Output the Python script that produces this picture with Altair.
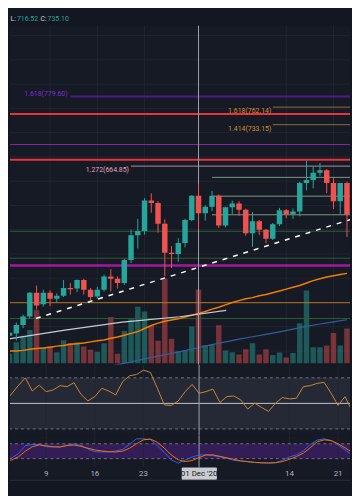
import altair as alt
import pandas as pd

# ---------------- data ----------------
dates = pd.date_range("2020-11-03", "2020-12-23", freq="D")
opens = [385, 389, 403, 417, 456, 437, 456, 446, 451, 464, 463, 477, 461, 450, 461, 483, 479,
         472, 510, 551, 558, 608, 604, 570, 522, 520, 538, 576, 616, 587, 598, 616, 567, 597,
         603, 593, 554, 574, 560, 545, 569, 592, 586, 590, 637, 642, 654, 658, 637, 607, 637]
highs = [393, 407, 420, 457, 468, 461, 460, 455, 477, 472, 478, 479, 464, 466, 486, 495, 483,
         512, 560, 578, 612, 620, 607, 577, 533, 546, 578, 617, 636, 600, 624, 618, 598, 608,
         607, 595, 589, 576, 561, 571, 596, 594, 595, 639, 674, 665, 670, 660, 645, 637, 639]
lows = [372, 377, 398, 413, 428, 433, 434, 440, 449, 453, 457, 453, 444, 446, 458, 458, 463,
        469, 505, 529, 552, 588, 555, 483, 497, 507, 531, 574, 560, 575, 591, 563, 564, 586,
        583, 550, 532, 551, 538, 543, 566, 579, 578, 582, 625, 628, 649, 620, 594, 586, 548]
closes = [390, 403, 417, 456, 435, 456, 446, 451, 464, 462, 477, 461, 449, 461, 483, 479, 472,
          510, 551, 558, 608, 604, 570, 522, 520, 538, 576, 616, 587, 598, 616, 567, 597, 603,
          593, 554, 574, 560, 545, 569, 592, 586, 590, 637, 642, 654, 658, 637, 607, 637, 585]
volumes = [9.5, 21.2, 27.8, 33.5, 53.5, 15.5, 17.2, 11.2, 23.2, 20.5, 21.2, 16.8, 13.5, 11.5,
           20.2, 46.8, 9.5, 32.5, 44.5, 57.2, 52.2, 37.8, 22.8, 85.5, 24.8, 12.2, 12.8, 37.2,
           74.5, 18.5, 18.8, 38.5, 12.8, 11.2, 8.8, 14.2, 20.2, 8.8, 14.2, 8.2, 10.8, 5.8, 10.2,
           40.5, 73.5, 16.2, 16.2, 17.8, 30.5, 17.8, 35.2]
rsi = [50.5, 57.3, 64, 70, 59.7, 64.3, 59.2, 60.5, 63.9, 63.1, 66.2, 57.1, 51.9, 55.3, 61.8,
       59.7, 56.6, 67, 71.6, 72.6, 76, 74.2, 61.8, 48.8, 48.4, 51.9, 59.2, 64.9, 57.9, 59.2,
       61.2, 50.7, 55.3, 55.8, 52.7, 45.5, 50.2, 46.8, 43.7, 50.2, 54.6, 53.5, 54, 63.1, 63.9,
       65.7, 66.4, 57.9, 48.4, 55.3, 44.2]
stoch_k = [18, 22, 40, 72, 77, 77, 68, 67, 67, 74, 80, 73, 59, 48, 47, 47, 51, 57, 78, 100,
           100, 97, 72, 45, 15, 2, 14, 26, 35, 35, 32, 27, 21, 13, 10, 7, 4, 3, 3, 4, 13, 27,
           35, 51, 77, 95, 100, 93, 75, 55, 35]
stoch_d = [12, 14, 27, 50, 68, 75, 72, 68, 67, 73, 75, 70, 62, 55, 51, 48, 47, 50, 62, 80,
           96, 99, 86, 62, 35, 15, 8, 12, 24, 35, 35, 29, 23, 17, 11, 8, 5, 3, 2, 3, 8, 17, 28,
           42, 64, 88, 96, 93, 80, 64, 46]
ma_orange = [360, 360, 361, 363, 364, 365, 366, 368, 369, 371, 372, 373, 375, 377, 378, 381,
             383, 386, 389, 392, 397, 402, 406, 409, 411, 413, 416, 419, 422, 425, 429, 432,
             436, 440, 443, 446, 448, 451, 453, 456, 459, 462, 465, 468, 472, 476, 479, 482,
             484, 486, 488]
ma_blue_days = [-16, -14, -12, -10, -8, -6, -4, -2, 0, 2, 4, 6, 8, 10, 12, 14, 16, 18, 20, 22]
ma_blue = [329, 333, 337.5, 342, 347, 351.5, 356, 360.5, 365.5, 370.5, 375, 379.5, 383.5,
           387.5, 391.5, 396, 400.5, 404.5, 408, 411.5]
white_line_days = [-28.4, -19.8, -11.3, -2.8, 4.1]
white_line = [379.5, 394.5, 407.5, 416.5, 427]
trend_days = [-24.1, 22.9]
trend_prices = [413.5, 578.1]

# horizontal drawings
full_levels = [750.9, 675.3, 700.4, 500.9, 557.4, 512.9, 413.5, 439.6]
full_colors = ["#e8333a", "#e8333a", "#8e24aa", "#a3189f", "#2f5b36", "#2f5b36", "#2f5b36", "#b87420"]
full_widths = [2, 2, 1, 2.5, 1, 1, 1, 1]
part_levels = [779.6, 762.14, 733.15, 664.85, 646.3, 615.3, 584.6]
part_start = [-18.96, 11.0, 11.0, -10.0, 2.0, 2.0, 2.0]
part_colors = ["#4a1c8a", "#8c6a3a", "#8c6a3a", "#b08aa0", "#7f977f", "#7f977f", "#7f977f"]
part_widths = [2, 1, 1, 1, 1, 1, 1]
fib_labels = ["1.618(779.60)", "1.618(762.14)", "1.414(733.15)", "1.272(664.85)"]
fib_prices = [779.6, 762.14, 733.15, 664.85]
fib_right = [-19.4, 10.8, 10.8, -10.3]
fib_colors = ["#7b2fd6", "#d0902e", "#d0902e", "#e0a6c4"]
fib_dy = [-3, 4, 4, 4]

header_texts = ["L:", "716.52", "C:", "735.10"]
header_x = [0.5, 7, 31, 38]

grid_prices = [360, 400, 440, 480, 520, 560, 600, 640, 680, 720, 760, 800, 840, 880]
grid_days = [-22, -15, -8, 13, 20]
tick_days = [-22, -15, -8, 13, 20]
tick_text = ["9", "16", "23", "14", "21"]
cross_day = 0
cross_text = "01 Dec '20"

# ---------------- frames ----------------
UP, DOWN = "#26a69a", "#ef5350"
t = [(d - pd.Timestamp("2020-12-01")).days for d in dates]
cdf = pd.DataFrame({"t": t, "o": opens, "h": highs, "l": lows, "c": closes,
                    "vol": volumes, "rsi": rsi, "k": stoch_k, "d": stoch_d,
                    "ma": ma_orange})
cdf["col"] = [UP if c >= o else DOWN for o, c in zip(opens, closes)]
cdf["zero"] = 0

W = 344
XDOM = [-27.21, 21.72]
PDOM = [337.4, 896.5]
RDOM = [24.58, 80.29]
SDOM = [-16, 112]
PANE = "#161a25"
BG = "#131722"
GRID = "#212532"


def X(f="t"):
    return alt.X(f"{f}:Q", scale=alt.Scale(domain=XDOM, nice=False, zero=False), axis=None)


def Yq(f, dom):
    return alt.Y(f"{f}:Q", scale=alt.Scale(domain=dom, nice=False, zero=False), axis=None)


vgrid = alt.Chart(pd.DataFrame({"t": grid_days})).mark_rule(color=GRID, strokeWidth=1).encode(x=X())
cross = alt.Chart(pd.DataFrame({"t": [cross_day]})).mark_rule(color="#9ea1aa", strokeWidth=1).encode(x=X())

# ---- header ----
hdr = pd.DataFrame({"x": header_x, "txt": header_texts,
                    "col": ["#d1d4dc", UP, "#d1d4dc", UP]})
header = alt.Chart(hdr).mark_text(align="left", baseline="alphabetic", fontSize=7,
                                  font="Roboto").encode(
    x=alt.X("x:Q", scale=alt.Scale(domain=[0, W], nice=False, zero=False), axis=None),
    y=alt.value(10), text="txt:N", color=alt.Color("col:N", scale=None)
).properties(width=W, height=15, view=alt.ViewBackground(fill=BG, stroke=None))

# ---- price pane ----
hgrid = alt.Chart(pd.DataFrame({"p": grid_prices})).mark_rule(color=GRID, strokeWidth=1).encode(y=Yq("p", PDOM))
fdf = pd.DataFrame({"p": full_levels, "col": full_colors, "w": full_widths})
full_lines = alt.Chart(fdf).mark_rule().encode(
    y=Yq("p", PDOM), color=alt.Color("col:N", scale=None), strokeWidth=alt.StrokeWidth("w:Q", scale=None))
pdf = pd.DataFrame({"t0": part_start, "t1": [40] * len(part_start), "p": part_levels,
                    "col": part_colors, "w": part_widths})
part_lines = alt.Chart(pdf).mark_rule(clip=True).encode(
    x=X("t0"), x2="t1:Q", y=Yq("p", PDOM), color=alt.Color("col:N", scale=None),
    strokeWidth=alt.StrokeWidth("w:Q", scale=None))
fib_layers = []
for lab, pr, tr, colr, dy in zip(fib_labels, fib_prices, fib_right, fib_colors, fib_dy):
    fib_layers.append(alt.Chart(pd.DataFrame({"t": [tr], "p": [pr], "lab": [lab]})).mark_text(
        align="right", baseline="middle", fontSize=7, font="Roboto", color=colr, dy=dy, clip=True
    ).encode(x=X(), y=Yq("p", PDOM), text="lab:N"))

vol = alt.Chart(cdf).mark_bar(size=5.5, opacity=0.45, clip=True).encode(
    x=X(), y=alt.Y("vol:Q", scale=alt.Scale(domain=[-1.5, 341.5], nice=False, zero=False), axis=None),
    y2="zero:Q", color=alt.Color("col:N", scale=None))
ma_o = alt.Chart(cdf).mark_line(color="#f57c00", strokeWidth=1.5, clip=True).encode(x=X(), y=Yq("ma", PDOM))
ma_b = alt.Chart(pd.DataFrame({"t": ma_blue_days, "p": ma_blue})).mark_line(
    color="#2f5f9a", strokeWidth=1.2, clip=True).encode(x=X(), y=Yq("p", PDOM))
wl = alt.Chart(pd.DataFrame({"t": white_line_days, "p": white_line})).mark_line(
    color="#c9cbd2", strokeWidth=1.2, clip=True).encode(x=X(), y=Yq("p", PDOM))
trend = alt.Chart(pd.DataFrame({"t": trend_days, "p": trend_prices})).mark_line(
    color="#ffffff", strokeWidth=1.5, strokeDash=[5, 6], clip=True).encode(x=X(), y=Yq("p", PDOM))
wick = alt.Chart(cdf).mark_rule(strokeWidth=1, clip=True).encode(
    x=X(), y=Yq("l", PDOM), y2="h:Q", color=alt.Color("col:N", scale=None))
body = alt.Chart(cdf).mark_bar(size=5.5, clip=True).encode(
    x=X(), y=Yq("o", PDOM), y2="c:Q", color=alt.Color("col:N", scale=None))

price = alt.layer(vgrid, hgrid, vol, full_lines, part_lines, *fib_layers, ma_b, ma_o, wl,
                  trend, cross, wick, body).resolve_scale(y="independent").properties(
    width=W, height=343, view=alt.ViewBackground(fill=PANE, stroke=None))

# ---- RSI pane ----
rband = alt.Chart(pd.DataFrame({"a": [30], "b": [70]})).mark_rect(color="#252935").encode(
    x=alt.value(0), x2=alt.value(W), y=Yq("a", RDOM), y2="b:Q")
rdash = alt.Chart(pd.DataFrame({"p": [30, 70]})).mark_rule(color="#6f727c", strokeDash=[3, 3]).encode(
    y=Yq("p", RDOM))
rmid = alt.Chart(pd.DataFrame({"p": [50]})).mark_rule(color="#c3c5cc", strokeWidth=1).encode(y=Yq("p", RDOM))
rline = alt.Chart(cdf).mark_line(color="#c8883a", strokeWidth=1, clip=True).encode(x=X(), y=Yq("rsi", RDOM))
rsi_pane = alt.layer(rband, vgrid, rdash, rmid, cross, rline).properties(
    width=W, height=72, view=alt.ViewBackground(fill=PANE, stroke=None))

# ---- Stoch RSI pane ----
sband = alt.Chart(pd.DataFrame({"a": [20], "b": [80]})).mark_rect(color="#331d57").encode(
    x=alt.value(0), x2=alt.value(W), y=Yq("a", SDOM), y2="b:Q")
sdash = alt.Chart(pd.DataFrame({"p": [20, 80]})).mark_rule(color="#6f727c", strokeDash=[3, 3]).encode(
    y=Yq("p", SDOM))
kline = alt.Chart(cdf).mark_line(color="#2962ff", strokeWidth=1, clip=True).encode(x=X(), y=Yq("k", SDOM))
dline = alt.Chart(cdf).mark_line(color="#ff6d00", strokeWidth=1, clip=True).encode(x=X(), y=Yq("d", SDOM))
stoch_pane = alt.layer(sband, vgrid, sdash, cross, kline, dline).properties(
    width=W, height=32, view=alt.ViewBackground(fill=PANE, stroke=None))

# ---- time axis ----
ticks = alt.Chart(pd.DataFrame({"t": tick_days, "txt": tick_text})).mark_text(
    fontSize=8, font="Roboto", color="#b2b5be", baseline="middle").encode(x=X(), y=alt.value(6.5), text="txt:N")
cbox = alt.Chart(pd.DataFrame({"a": [-2.5], "b": [2.56]})).mark_rect(color="#c9cbd1", cornerRadius=1).encode(
    x=X("a"), x2="b:Q", y=alt.value(0), y2=alt.value(12.5))
ctext = alt.Chart(pd.DataFrame({"t": [cross_day], "txt": [cross_text]})).mark_text(
    fontSize=8, font="Roboto", color="#131722", baseline="middle").encode(x=X(), y=alt.value(6.5), text="txt:N")
axis_pane = alt.layer(ticks, cbox, ctext).properties(
    width=W, height=13, view=alt.ViewBackground(fill=PANE, stroke=None))

bottom = alt.Chart(pd.DataFrame({"p": [0]})).mark_rule(color="#2a2e39").encode(y=alt.value(0)).properties(
    width=W, height=13, view=alt.ViewBackground(fill=BG, stroke=None))

chart = alt.vconcat(header, price, rsi_pane, stoch_pane, axis_pane, bottom, spacing=0,
                    bounds="flush").properties(padding=0, background=BG).configure_view(stroke=None)

chart.save("out.html", embed_options={"renderer": "svg", "actions": False})
